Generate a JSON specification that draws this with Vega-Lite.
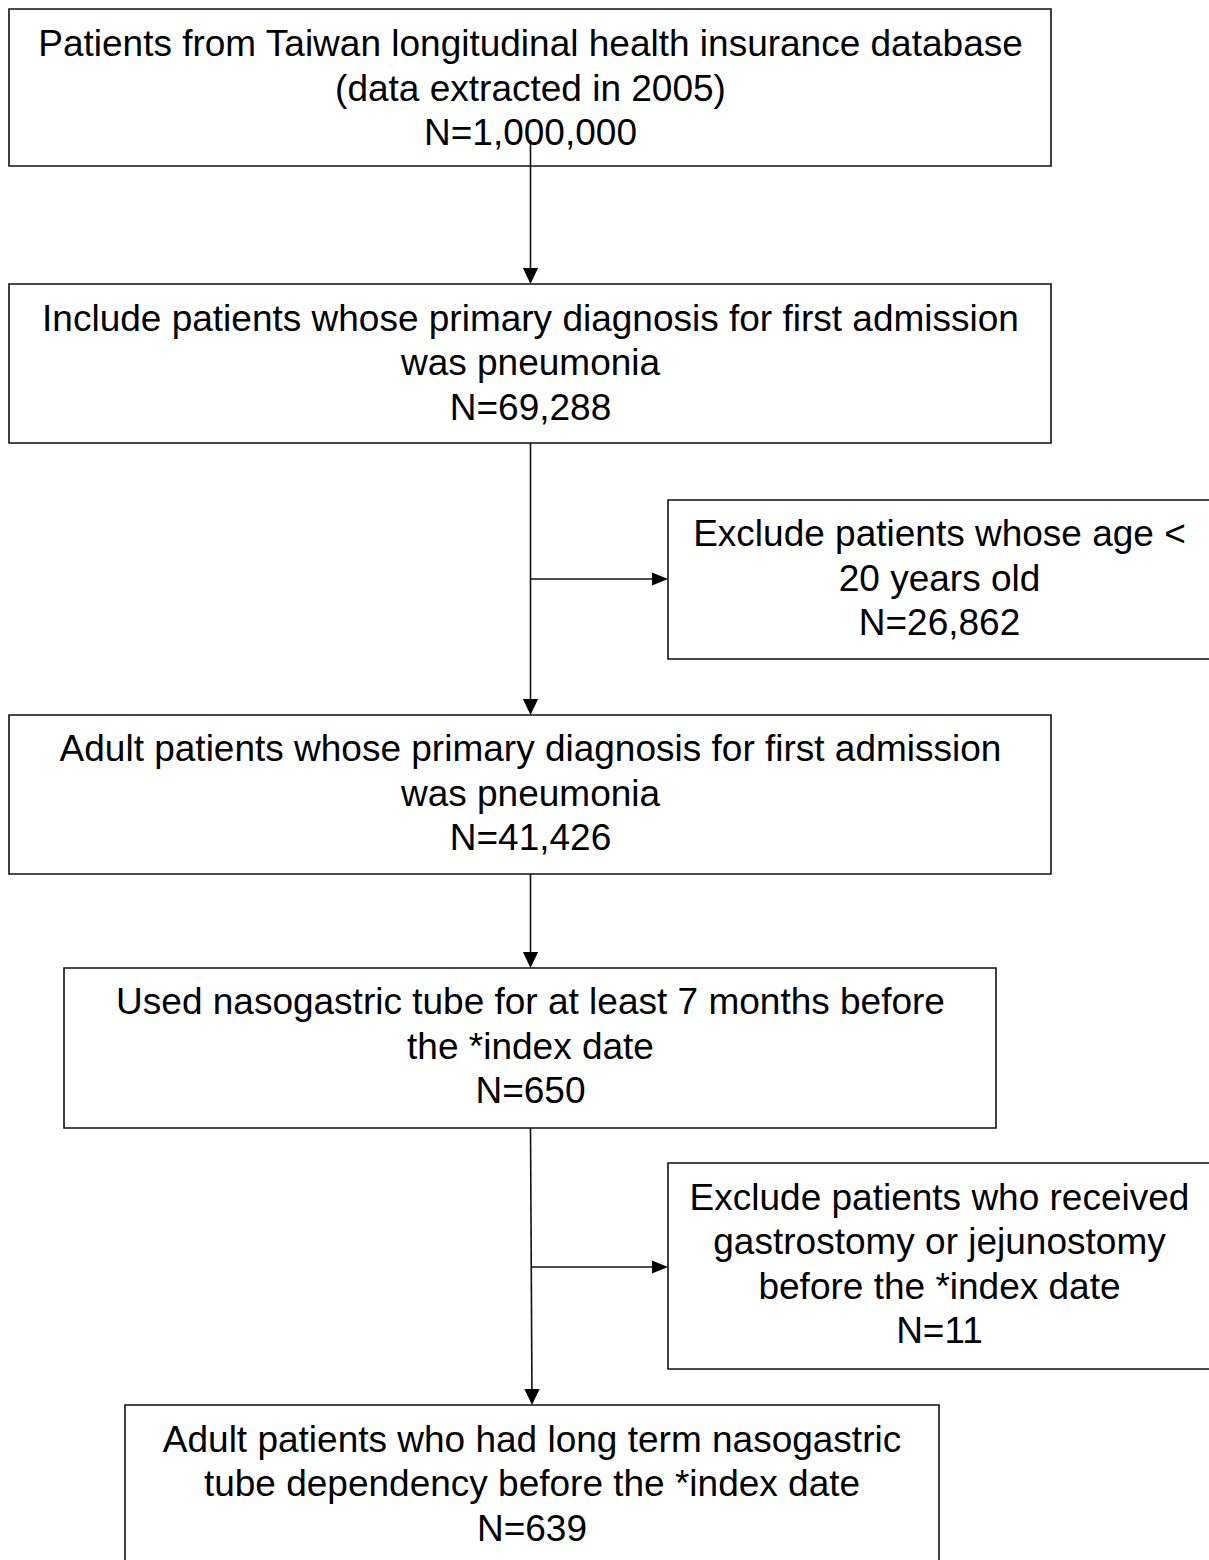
{
  "$schema": "https://vega.github.io/schema/vega-lite/v6.json",
  "width": 1209,
  "height": 1560,
  "padding": 0,
  "autosize": {"type": "none"},
  "background": "white",
  "config": {"view": {"stroke": null}},
  "datasets": {
    "boxes": [
      {"box": 1, "x1": 9, "x2": 1051, "y1": 9, "y2": 166},
      {"box": 2, "x1": 9, "x2": 1051, "y1": 284, "y2": 443},
      {"box": 3, "x1": 668, "x2": 1214, "y1": 500, "y2": 659},
      {"box": 4, "x1": 9, "x2": 1051, "y1": 715, "y2": 874},
      {"box": 5, "x1": 64, "x2": 996, "y1": 968, "y2": 1128},
      {"box": 6, "x1": 668, "x2": 1214, "y1": 1163, "y2": 1369},
      {"box": 7, "x1": 125, "x2": 939, "y1": 1405, "y2": 1566}
    ],
    "labels": [
      {"box": 1, "cx": 530.5, "by": 56, "text": "Patients from Taiwan longitudinal health insurance database"},
      {"box": 1, "cx": 530.5, "by": 101, "text": "(data extracted in 2005)"},
      {"box": 1, "cx": 530.5, "by": 145, "text": "N=1,000,000"},
      {"box": 2, "cx": 530.5, "by": 331, "text": "Include patients whose primary diagnosis for first admission"},
      {"box": 2, "cx": 530.5, "by": 375, "text": "was pneumonia"},
      {"box": 2, "cx": 530.5, "by": 420, "text": "N=69,288"},
      {"box": 3, "cx": 939.5, "by": 546, "text": "Exclude patients whose age <"},
      {"box": 3, "cx": 939.5, "by": 591, "text": "20 years old"},
      {"box": 3, "cx": 939.5, "by": 635, "text": "N=26,862"},
      {"box": 4, "cx": 530.5, "by": 761, "text": "Adult patients whose primary diagnosis for first admission"},
      {"box": 4, "cx": 530.5, "by": 806, "text": "was pneumonia"},
      {"box": 4, "cx": 530.5, "by": 850, "text": "N=41,426"},
      {"box": 5, "cx": 530.5, "by": 1014, "text": "Used nasogastric tube for at least 7 months before"},
      {"box": 5, "cx": 530.5, "by": 1059, "text": "the *index date"},
      {"box": 5, "cx": 530.5, "by": 1103, "text": "N=650"},
      {"box": 6, "cx": 939.5, "by": 1210, "text": "Exclude patients who received"},
      {"box": 6, "cx": 939.5, "by": 1254, "text": "gastrostomy or jejunostomy"},
      {"box": 6, "cx": 939.5, "by": 1299, "text": "before the *index date"},
      {"box": 6, "cx": 939.5, "by": 1343, "text": "N=11"},
      {"box": 7, "cx": 532, "by": 1452, "text": "Adult patients who had long term nasogastric"},
      {"box": 7, "cx": 532, "by": 1496, "text": "tube dependency before the *index date"},
      {"box": 7, "cx": 532, "by": 1541, "text": "N=639"}
    ],
    "arrows": [
      {"x1": 530.5, "y1": 140, "x2": 530.5, "y2": 280},
      {"x1": 530.5, "y1": 443, "x2": 530.5, "y2": 711},
      {"x1": 530.5, "y1": 579, "x2": 664, "y2": 579},
      {"x1": 530.5, "y1": 874, "x2": 530.5, "y2": 964},
      {"x1": 530.5, "y1": 1128, "x2": 532, "y2": 1401},
      {"x1": 531.5, "y1": 1267, "x2": 664, "y2": 1267}
    ],
    "heads": [
      {"x": 530.5, "y": 276, "dir": "down"},
      {"x": 530.5, "y": 707, "dir": "down"},
      {"x": 660, "y": 579, "dir": "right"},
      {"x": 530.5, "y": 960, "dir": "down"},
      {"x": 532, "y": 1397, "dir": "down"},
      {"x": 660, "y": 1267, "dir": "right"}
    ]
  },
  "layer": [
    {
      "data": {"name": "boxes"},
      "mark": {"type": "rect", "fill": "white", "stroke": "#111", "strokeWidth": 1.6, "clip": true},
      "encoding": {
        "x": {"field": "x1", "type": "quantitative", "scale": {"domain": [0, 1209], "nice": false, "zero": false}, "axis": null},
        "x2": {"field": "x2"},
        "y": {"field": "y1", "type": "quantitative", "scale": {"domain": [0, 1560], "nice": false, "zero": false, "reverse": true}, "axis": null},
        "y2": {"field": "y2"}
      }
    },
    {
      "data": {"name": "arrows"},
      "mark": {"type": "rule", "stroke": "#111", "strokeWidth": 1.6},
      "encoding": {
        "x": {"field": "x1", "type": "quantitative"},
        "x2": {"field": "x2"},
        "y": {"field": "y1", "type": "quantitative"},
        "y2": {"field": "y2"}
      }
    },
    {
      "data": {"name": "heads"},
      "mark": {"type": "point", "filled": true, "fill": "#000", "strokeWidth": 0, "opacity": 1, "size": 256},
      "encoding": {
        "x": {"field": "x", "type": "quantitative"},
        "y": {"field": "y", "type": "quantitative"},
        "shape": {"field": "dir", "type": "nominal", "legend": null, "scale": {"domain": ["down", "right"], "range": ["M-0.95,-1L0.95,-1L0,1Z", "M-1,-0.8L1,0L-1,0.8Z"]}}
      }
    },
    {
      "data": {"name": "labels"},
      "mark": {"type": "text", "font": "Liberation Sans", "fontSize": 37, "align": "center", "baseline": "alphabetic", "color": "#000"},
      "encoding": {
        "x": {"field": "cx", "type": "quantitative"},
        "y": {"field": "by", "type": "quantitative"},
        "text": {"field": "text"}
      }
    }
  ],
  "resolve": {"scale": {"x": "shared", "y": "shared"}}
}
